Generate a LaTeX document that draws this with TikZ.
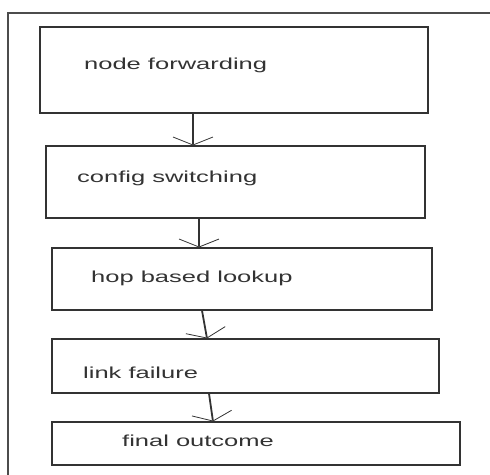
\documentclass[tikz,border=0pt]{standalone}
\usepackage{fontspec}
\newfontfamily\flowfont[FakeStretch=1.6]{Liberation Sans}
\usetikzlibrary{arrows.meta,positioning}

\begin{document}
\begin{tikzpicture}[x=1bp,y=-1bp,
    stage/.style={draw=black!80, line width=1.1bp, inner sep=0pt},
    caption/.style={anchor=base west, inner sep=0pt, text=black!80,
        font=\flowfont\fontsize{16}{19}\selectfont},
    flow/.style={draw=black!80, line width=1.8bp,
        -{Straight Barb[length=8bp,width=40bp,line width=0.8bp]}}]
    \useasboundingbox (0,0) rectangle (490,475);
    \clip (0,0) rectangle (490,475);
    % outer frame, cut by the page edge
    \draw[black!70, line width=1.2bp] (8,13) rectangle (520,500);
    % stages
    \node[stage, minimum width=388bp, minimum height=86bp] (fwd) at (234,70) {};
    \node[stage, minimum width=379bp, minimum height=72bp] (cfg) at (235.5,182) {};
    \node[stage, minimum width=380bp, minimum height=62bp] (hop) at (242,279) {};
    \node[stage, minimum width=387bp, minimum height=54bp] (lnk) at (245.5,366) {};
    \node[stage, minimum width=408bp, minimum height=43bp] (fin) at (256,443.5) {};
    % texts
    \node[caption] (tfwd) at (84,70) {node forwarding};
    \node[caption] (tcfg) at (77,183) {config switching};
    \node[caption] (thop) at (91,282) {hop based lookup};
    \node[caption] (tlnk) at (83,378) {link failure};
    \node[caption] (tfin) at (122,446) {final outcome};
    % connectors
    \draw[flow] ([xshift=-41bp]fwd.south) -- ([xshift=-42.5bp]cfg.north);
    \draw[flow] ([xshift=-36.5bp]cfg.south) -- ([xshift=-43bp]hop.north);
    \draw[flow] ([xshift=-40bp]hop.south) -- ([xshift=-38.5bp]lnk.north);
    \draw[flow] ([xshift=-36.5bp]lnk.south) -- ([xshift=-43bp]fin.north);
\end{tikzpicture}
\end{document}
